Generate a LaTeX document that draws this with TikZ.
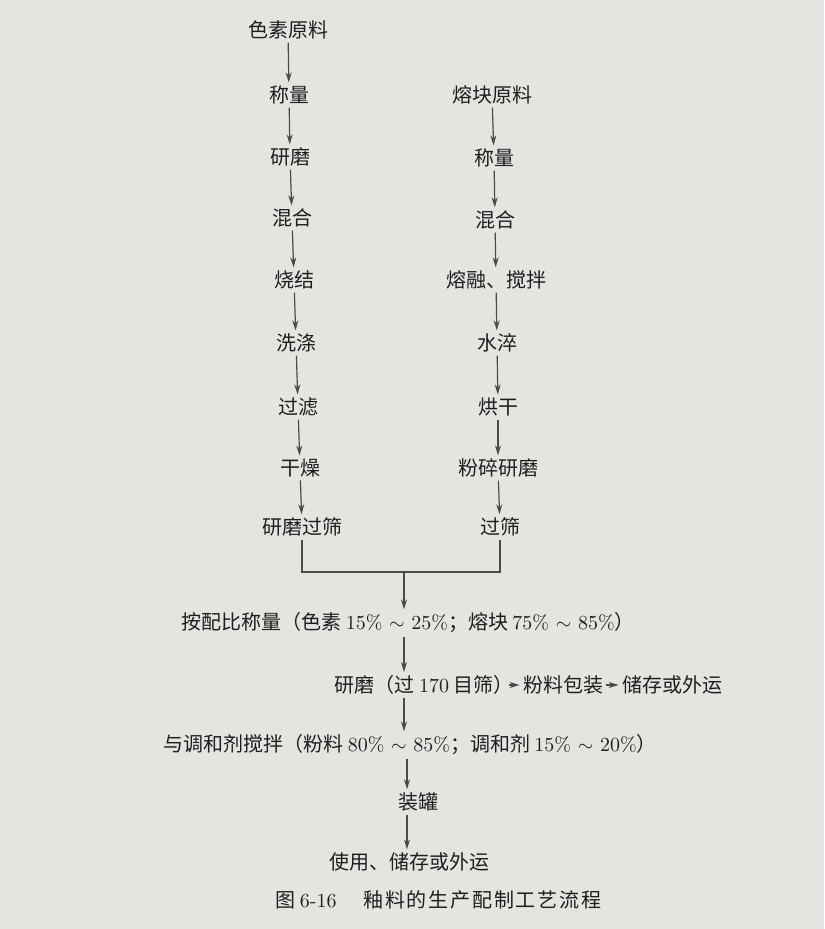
\documentclass[tikz,border=0pt]{standalone}
\usepackage{fontspec}
\newfontfamily\cjk{Noto Sans CJK SC}
\usetikzlibrary{arrows.meta}
\definecolor{paper}{HTML}{E6E4E1}
\definecolor{ink}{HTML}{1E1E1E}
\definecolor{wirec}{HTML}{4A4A4A}
\newcommand\latn[1]{{\rmfamily #1}}
\newcommand\ck{\kern0.9pt}
\begin{document}
\begin{tikzpicture}[x=0.5pt,y=-0.5pt,
  lbl/.style={font=\cjk\fontsize{10}{12}\selectfont, text=ink, inner sep=1.5pt},
  captext/.style={font=\cjk\fontsize{10}{12}\selectfont, text=ink, inner sep=0pt},
  flow/.style={draw=wirec, line width=0.6pt, -{Stealth[length=5pt,width=3pt]}},
  wire/.style={draw=wirec, line width=0.6pt}]
\fill[paper] (0,0) rectangle (824,929);
\useasboundingbox (0,0) rectangle (824,929);
% left column
\node[lbl] (L0) at (288,30) {色素原料};
\node[lbl] (L1) at (289,95) {称量};
\node[lbl] (L2) at (290,157) {研磨};
\node[lbl] (L3) at (292,218) {混合};
\node[lbl] (L4) at (294,280) {烧结};
\node[lbl] (L5) at (296,343) {洗涤};
\node[lbl] (L6) at (298,407) {过滤};
\node[lbl] (L7) at (300,468) {干燥};
\node[lbl] (L8) at (302,527) {研磨过筛};
% right column
\node[lbl] (R0) at (492,95) {熔块原料};
\node[lbl] (R1) at (494,158) {称量};
\node[lbl] (R2) at (495,220) {混合};
\node[lbl] (R3) at (496,280) {熔融、搅拌};
\node[lbl] (R4) at (497,343) {水淬};
\node[lbl] (R5) at (498,407) {烘干};
\node[lbl] (R6) at (498,468) {粉碎研磨};
\node[lbl] (R7) at (500,527) {过筛};
\foreach \a/\b in {L0/L1,L1/L2,L2/L3,L3/L4,L4/L5,L5/L6,L6/L7,L7/L8,
                   R0/R1,R1/R2,R2/R3,R3/R4,R4/R5,R5/R6,R6/R7}
  \draw[flow] (\a) -- (\b);
% join
\coordinate (jn) at (404,572);
\draw[wire] (L8.south) |- (jn) -| (R7.south);
\node[lbl] (P) at (408,623) {按配比称量（色素\ \latn{15\%\ $\sim$\ 25\%}；熔块\ \latn{75\%\ $\sim$\ 85\%}）};
\draw[flow] (jn) -- (jn |- P.north);
\node[lbl] (M1) at (424,685) {研磨（过\ \latn{170}\ 目筛）};
\node[lbl] (M2) at (563,685) {粉料包装};
\node[lbl] (M3) at (672,685) {储存或外运};
\draw[flow] ([xshift=-4pt]M1.east) -- (M2);
\draw[flow] (M2) -- (M3);
\draw[flow] (P.south -| jn) -- (jn |- M1.north);
\node[lbl] (T) at (410,745) {与调和剂搅拌（粉料\ \latn{80\%\ $\sim$\ 85\%}；调和剂\ \latn{15\%\ $\sim$\ 20\%}）};
\draw[flow] (jn |- M1.south) -- (jn |- T.north);
\coordinate (ax2) at (407,0);
\node[lbl] (G) at (418,802) {装罐};
\draw[flow] (ax2 |- T.south) -- (ax2 |- G.north);
\node[lbl] (U) at (409,862) {使用、储存或外运};
\draw[flow] (ax2 |- G.south) -- (ax2 |- U.north);
% caption
\node[captext, anchor=west] (C1) at (275,900) {图\ \latn{6-16}};
\node[captext, anchor=west] (C2) at (363,900) {釉\ck 料\ck 的\ck 生\ck 产\ck 配\ck 制\ck 工\ck 艺\ck 流\ck 程};
\end{tikzpicture}
\end{document}
